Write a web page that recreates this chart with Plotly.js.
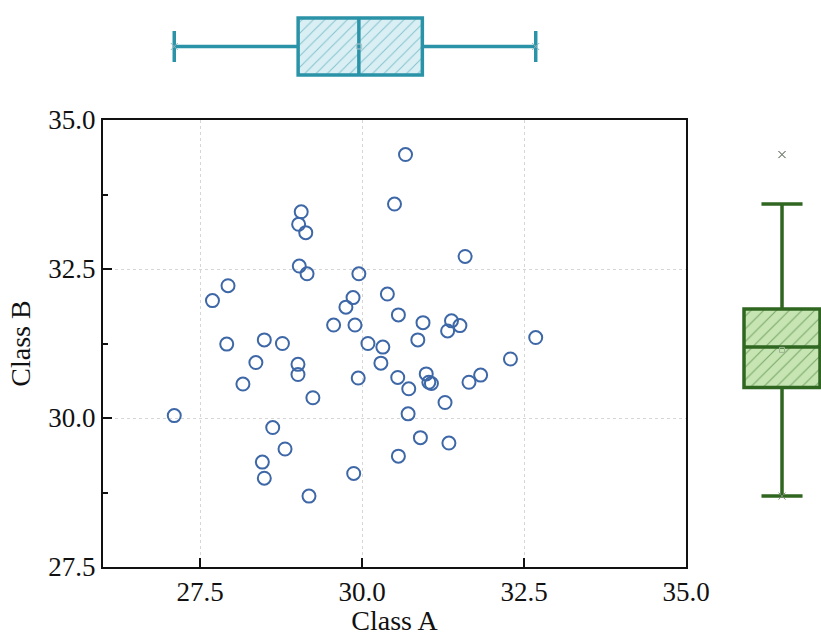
<!DOCTYPE html>
<html><head><meta charset="utf-8">
<script src="https://cdn.plot.ly/plotly-3.0.1.min.js"></script>
<style>html,body{margin:0;padding:0;background:#fff}#chart{width:821px;height:636px}</style>
</head><body><div id="chart"></div>
<script>
// ---- data ----
const classA = [27.10, 27.69, 27.93, 29.06, 29.02, 29.13, 29.03, 29.15, 29.95, 29.86,
  29.75, 29.56, 29.89, 30.67, 30.50, 31.59, 30.39, 30.56, 30.94, 31.38,
  31.51, 31.32, 32.68, 30.09, 30.32, 30.86, 32.29, 30.29, 29.94, 30.55,
  30.99, 31.03, 31.07, 30.72, 31.65, 31.83, 31.28, 30.71, 30.90, 31.34,
  30.56, 29.87, 27.91, 28.49, 28.77, 28.36, 29.01, 29.01, 28.16, 29.24,
  28.62, 28.81, 28.46, 28.49, 29.18];
const classB = [30.04, 31.97, 32.22, 33.46, 33.25, 33.11, 32.55, 32.42, 32.42, 32.02,
  31.86, 31.56, 31.56, 34.42, 33.59, 32.71, 32.08, 31.73, 31.60, 31.63,
  31.55, 31.46, 31.35, 31.25, 31.19, 31.31, 30.99, 30.92, 30.67, 30.68,
  30.74, 30.60, 30.58, 30.49, 30.60, 30.72, 30.26, 30.07, 29.67, 29.58,
  29.36, 29.07, 31.24, 31.31, 31.25, 30.93, 30.90, 30.73, 30.57, 30.34,
  29.84, 29.48, 29.26, 28.99, 28.69];
const xTickVals = [27.5, 30.0, 32.5, 35.0];
const xTickText = ['27.5', '30.0', '32.5', '35.0'];
const yTickVals = [27.5, 30.0, 32.5, 35.0];
const yTickText = ['27.5', '30.0', '32.5', '35.0'];
const xTitle = 'Class A';
const yTitle = 'Class B';

// ---- helpers (same 'linear' quartile rule as plotly) ----
function interp(sorted, p) {
  let n = p * sorted.length - 0.5;
  if (n < 0) return sorted[0];
  if (n > sorted.length - 1) return sorted[sorted.length - 1];
  const f = n % 1;
  return f * sorted[Math.ceil(n)] + (1 - f) * sorted[Math.floor(n)];
}
function stats(arr) {
  const s = [...arr].sort((a, b) => a - b);
  return {q1: interp(s, 0.25), q3: interp(s, 0.75), min: s[0], max: s[s.length - 1],
          mean: arr.reduce((a, b) => a + b, 0) / arr.length};
}
const sA = stats(classA), sB = stats(classB);

const teal = '#2b93a8', tealFill = '#d9eff4';
const green = '#2f6620', greenFill = '#c6e5b2';
const font = 'Liberation Serif, Times New Roman, serif';
const ink = '#111';

const traces = [
  // main scatter
  {type: 'scatter', mode: 'markers', x: classA, y: classB, xaxis: 'x', yaxis: 'y',
   marker: {symbol: 'circle-open', size: 13, color: '#3d67a6', line: {width: 2, color: '#3d67a6'}}},
  // top box: hatched fill
  {type: 'bar', orientation: 'h', y: [0], x: [sA.q3 - sA.q1], base: [sA.q1], width: [1],
   xaxis: 'x2', yaxis: 'y2',
   marker: {color: tealFill, line: {width: 0},
            pattern: {shape: '/', fillmode: 'overlay', fgcolor: teal, size: 8, solidity: 0.12}}},
  {type: 'box', x: classA, y0: 0, orientation: 'h', xaxis: 'x2', yaxis: 'y2', width: 1,
   fillcolor: 'rgba(0,0,0,0)', line: {color: teal, width: 3.5}, whiskerwidth: 0.54,
   boxpoints: 'outliers', marker: {symbol: 'x-thin-open', size: 7, color: '#888', line: {width: 1, color: '#888'}}},
  {type: 'scatter', mode: 'markers', x: [sA.min, sA.max], y: [0, 0], xaxis: 'x2', yaxis: 'y2',
   marker: {symbol: 'x-thin-open', size: 7, color: '#8fb3bb', line: {width: 1, color: '#8fb3bb'}}},
  {type: 'scatter', mode: 'markers', x: [sA.mean], y: [0], xaxis: 'x2', yaxis: 'y2',
   marker: {symbol: 'square-open', size: 5, color: '#a9c4ca', line: {width: 1, color: '#a9c4ca'}}},
  // right box
  {type: 'bar', x: [0], y: [sB.q3 - sB.q1], base: [sB.q1], width: [1],
   xaxis: 'x3', yaxis: 'y3',
   marker: {color: greenFill, line: {width: 0},
            pattern: {shape: '/', fillmode: 'overlay', fgcolor: green, size: 9, solidity: 0.12}}},
  {type: 'box', y: classB, x0: 0, xaxis: 'x3', yaxis: 'y3', width: 1,
   fillcolor: 'rgba(0,0,0,0)', line: {color: green, width: 3.5}, whiskerwidth: 0.54,
   boxpoints: 'outliers', marker: {symbol: 'x-thin-open', size: 7, color: '#777', line: {width: 1, color: '#777'}}},
  {type: 'scatter', mode: 'markers', x: [0, 0], y: [sB.min, sB.max], xaxis: 'x3', yaxis: 'y3',
   marker: {symbol: 'x-thin-open', size: 7, color: '#7a8a74', line: {width: 1, color: '#7a8a74'}}},
  {type: 'scatter', mode: 'markers', x: [0], y: [sB.mean], xaxis: 'x3', yaxis: 'y3',
   marker: {symbol: 'square-open', size: 5, color: '#9fb495', line: {width: 1, color: '#9fb495'}}}
];

const hidden = {visible: false, showgrid: false, zeroline: false, fixedrange: true};
const layout = {
  width: 821, height: 636,
  margin: {l: 0, r: 0, t: 0, b: 0},
  paper_bgcolor: '#fff', plot_bgcolor: '#fff',
  showlegend: false,
  barmode: 'overlay',
  font: {family: font, size: 27, color: ink},
  xaxis: {domain: [103/821, 686/821], range: [26, 35], anchor: 'y',
    tickvals: xTickVals, ticktext: xTickText,
    ticks: 'inside', ticklen: 9, tickwidth: 2, tickcolor: ink,
    showline: true, linewidth: 2, linecolor: ink, mirror: true,
    showgrid: true, gridcolor: '#d6d6d6', griddash: 'dot', gridwidth: 1, zeroline: false,
    tickfont: {family: font, size: 27, color: ink},
    title: {text: xTitle, font: {family: font, size: 28, color: ink}, standoff: 16}},
  yaxis: {domain: [69/636, 516/636], range: [27.5, 35], anchor: 'x',
    tickvals: yTickVals, ticktext: yTickText,
    ticks: 'inside', ticklen: 9, tickwidth: 2, tickcolor: ink,
    minor: {ticks: 'inside', ticklen: 5, tickwidth: 2, tickcolor: ink, dtick: 1.25, tick0: 27.5, showgrid: false},
    showline: true, linewidth: 2, linecolor: ink, mirror: true,
    showgrid: true, gridcolor: '#d6d6d6', griddash: 'dot', gridwidth: 1, zeroline: false,
    tickfont: {family: font, size: 27, color: ink},
    title: {text: yTitle, font: {family: font, size: 28, color: ink}, standoff: 10}},
  xaxis2: Object.assign({domain: [103/821, 686/821], range: [26, 35], anchor: 'y2'}, hidden),
  yaxis2: Object.assign({domain: [1 - 89.25/636, 1 - 3.75/636], range: [-0.75, 0.75], anchor: 'x2'}, hidden),
  xaxis3: Object.assign({domain: [725/821, 1], range: [-0.75, 0.513], anchor: 'y3'}, hidden),
  yaxis3: Object.assign({domain: [69/636, 516/636], range: [27.5, 35], anchor: 'x3'}, hidden)
};

Plotly.newPlot('chart', traces, layout, {displayModeBar: false, staticPlot: true});
</script>
</body></html>
